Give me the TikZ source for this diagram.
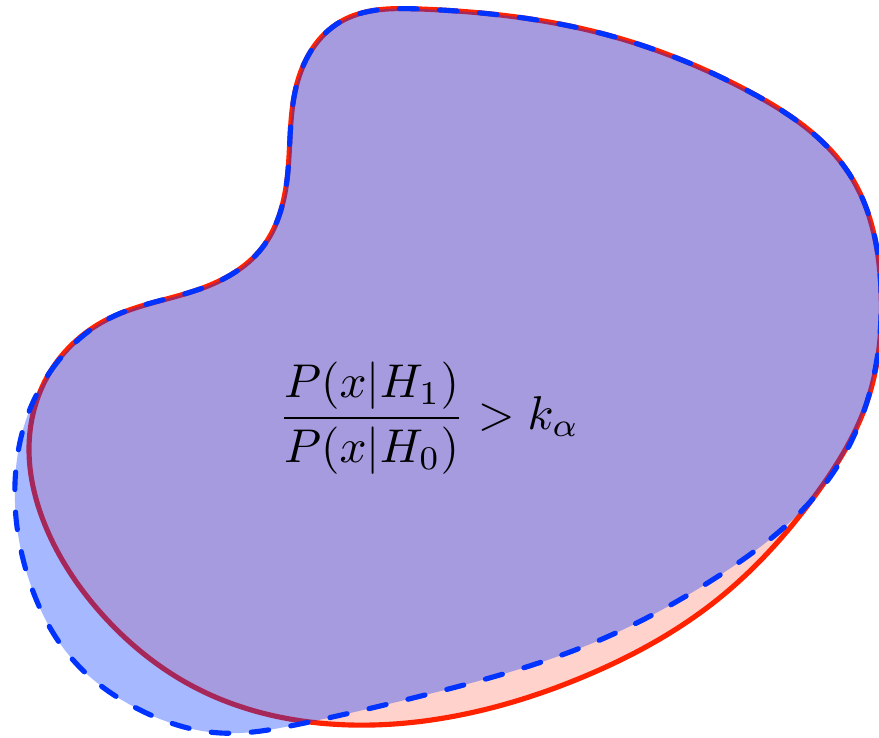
\documentclass[tikz,border=0pt]{standalone}
\usepackage{amsmath}
\usetikzlibrary{hobby}
\definecolor{redline}{RGB}{255,34,0}
\definecolor{blueline}{RGB}{0,51,255}
\begin{document}
\begin{tikzpicture}[x=0.2047pt,y=-0.2047pt,
  redregion/.style={fill=redline,fill opacity=0.2,draw=redline,draw opacity=1,line width=1.05pt},
  blueregion/.style={fill=blueline,fill opacity=0.35},
  blueedge/.style={draw=blueline,line width=1.05pt,line cap=round,dash pattern=on 3.6pt off 4.6pt}]
\useasboundingbox (0,0) rectangle (879,738);
\path[redregion,use Hobby shortcut,closed=true]
 (50,372) .. (110,318) .. (200,289) .. (262,248) .. (287,180) .. (298,80) .. (340,22) .. (420,9) .. (600,33) .. (750,92) .. (850,175) .. (881,290) .. (866,405)
 .. (817,493) .. (717,600) .. (583,677) .. (450,717) .. (330,724) .. (200,690) .. (100,612) .. (45,525) .. (29,450);
\path[blueregion,use Hobby shortcut,closed=true]
 (50,372) .. (110,318) .. (200,289) .. (262,248) .. (287,180) .. (298,80) .. (340,22) .. (420,9) .. (600,33) .. (750,92) .. (850,175) .. (881,290) .. (866,405)
 .. (833,473) .. (717,577) .. (600,640) .. (433,693) .. (300,724) .. (220,733) .. (140,710) .. (73,660) .. (30,583) .. (15,483) .. (27,417);
\path[blueedge,use Hobby shortcut,closed=true]
 (50,372) .. (110,318) .. (200,289) .. (262,248) .. (287,180) .. (298,80) .. (340,22) .. (420,9) .. (600,33) .. (750,92) .. (850,175) .. (881,290) .. (866,405)
 .. (833,473) .. (717,577) .. (600,640) .. (433,693) .. (300,724) .. (220,733) .. (140,710) .. (73,660) .. (30,583) .. (15,483) .. (27,417);
\node[scale=0.97] (ratio) at (429,418) {$\dfrac{P(x|H_1)}{P(x|H_0)} > k_\alpha$};
\end{tikzpicture}
\end{document}
